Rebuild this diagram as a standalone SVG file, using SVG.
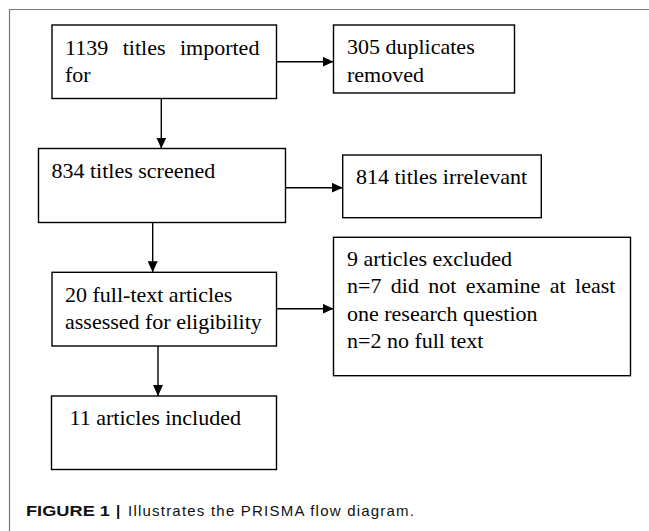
<svg xmlns="http://www.w3.org/2000/svg" width="649" height="531" viewBox="0 0 649 531">
<style>
.box{fill:#fff;stroke:#000;stroke-width:1.4}
.t{font-family:"Liberation Serif","Times New Roman",serif;font-size:22px;fill:#000}
.c{stroke:#000;stroke-width:1.4;fill:none}
.frame{stroke:#7a7a7a;stroke-width:1.2;fill:none}
.cap{font-family:"Liberation Sans",Arial,sans-serif;font-size:15px;fill:#111}
</style>
<defs>
<marker id="ah" markerWidth="11" markerHeight="10" refX="11" refY="5" orient="auto" markerUnits="userSpaceOnUse">
<path d="M0,0 L11,5 L0,10 Z" fill="#000"/>
</marker>
</defs>
<rect width="649" height="531" fill="#fff"/>
<path class="frame" d="M9.5,531 V9.5 H649"/>
<g id="n1">
<rect class="box" x="52" y="25" width="224.5" height="73.5"/>
<text class="t" x="65" y="55" word-spacing="9">1139 titles imported</text>
<text class="t" x="65" y="82">for</text>
</g>
<g id="n2">
<rect class="box" x="333.5" y="25" width="181" height="68"/>
<text class="t" x="347" y="54">305 duplicates</text>
<text class="t" x="347" y="82">removed</text>
</g>
<g id="n3">
<rect class="box" x="38.5" y="148.5" width="247" height="74"/>
<text class="t" x="51.5" y="177.7">834 titles screened</text>
</g>
<g id="n4">
<rect class="box" x="342.7" y="155" width="198.6" height="62.7"/>
<text class="t" x="356" y="184">814 titles irrelevant</text>
</g>
<g id="n5">
<rect class="box" x="52" y="272.3" width="224.5" height="73.7"/>
<text class="t" x="65" y="301.7">20 full-text articles</text>
<text class="t" x="65" y="329.3">assessed for eligibility</text>
</g>
<g id="n6">
<rect class="box" x="333.5" y="237.3" width="297" height="138.4"/>
<text class="t" x="347" y="265.7">9 articles excluded</text>
<text class="t" x="347" y="293.3" word-spacing="3.9">n=7 did not examine at least</text>
<text class="t" x="347" y="320.7">one research question</text>
<text class="t" x="347" y="348.3">n=2 no full text</text>
</g>
<g id="n7">
<rect class="box" x="51.5" y="396" width="225" height="73.5"/>
<text class="t" x="69.5" y="425">11 articles included</text>
</g>
<g id="connectors">
<line class="c" x1="276.5" y1="61.7" x2="333.5" y2="61.7" marker-end="url(#ah)"/>
<line class="c" x1="161.3" y1="98.5" x2="161.3" y2="148.5" marker-end="url(#ah)"/>
<line class="c" x1="285.5" y1="187.7" x2="342.7" y2="187.7" marker-end="url(#ah)"/>
<line class="c" x1="152.7" y1="222.5" x2="152.7" y2="272.3" marker-end="url(#ah)"/>
<line class="c" x1="276.5" y1="308.7" x2="333.5" y2="308.7" marker-end="url(#ah)"/>
<line class="c" x1="158" y1="346" x2="158" y2="396" marker-end="url(#ah)"/>
</g>
<text class="cap" x="26" y="515.5" font-weight="bold" textLength="84" lengthAdjust="spacingAndGlyphs">FIGURE 1</text>
<text class="cap" x="116" y="515.5" font-weight="bold">|</text>
<text class="cap" x="128" y="515.5" fill="#222" textLength="286" lengthAdjust="spacing">Illustrates the PRISMA flow diagram.</text>
</svg>
